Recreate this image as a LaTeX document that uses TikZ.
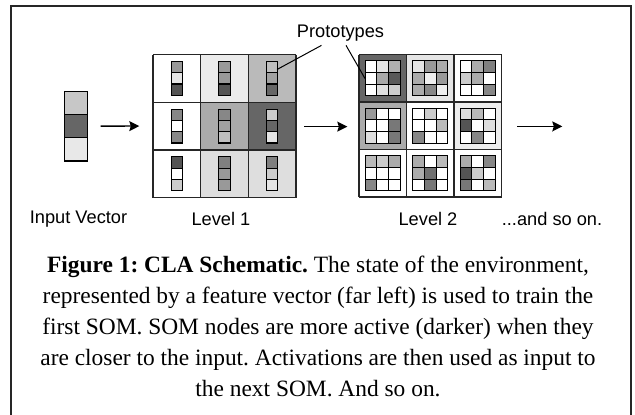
\documentclass[tikz,border=0pt]{standalone}
\usepackage{fontspec}
\setmainfont{Liberation Serif}
\newfontfamily\labelfont{Liberation Sans}
\usetikzlibrary{arrows.meta}
\frenchspacing
\begin{document}
\begin{tikzpicture}[x=1bp,y=-1bp,
  gridline/.style={draw=black!85, line width=1.3bp},
  sub/.style={draw=black, line width=1.1bp},
  flow/.style={line width=1.3bp, -{Stealth[length=10bp,width=10bp,inset=1.5bp]}},
  lbl/.style={font=\labelfont\fontsize{18.3}{21}\selectfont, inner sep=0},
  pointer/.style={line width=1bp},
  area/.style={inner sep=0, outer sep=0}]
\useasboundingbox (0,0) rectangle (635,414);
\draw[line width=2bp, draw=black!85] (11,6) rectangle (631,430);

% ---------- input vector ----------
\filldraw[sub, fill=black!22] (64.3,91.3) rectangle ++(23.4,23.23);
\filldraw[sub, fill=black!60] (64.3,114.53) rectangle ++(23.4,23.23);
\filldraw[sub, fill=black!9] (64.3,137.76) rectangle ++(23.4,23.23);
\node[area, minimum width=23.4bp, minimum height=69.7bp] (IV) at (76,126.15) {};

% ---------- level 1 ----------
\foreach \r/\c/\bg/\ba/\bb/\bc in {
  0/0/0/40/10/67, 0/1/8/40/40/67, 0/2/27/25/37/60,
  1/0/0/47/0/47, 1/1/33/47/37/25, 1/2/60/20/60/10,
  2/0/0/67/0/20, 2/1/13/50/40/40, 2/2/13/50/20/10}{
  \pgfmathsetmacro\xx{153+\c*47.7}
  \pgfmathsetmacro\yy{54.5+\r*47.7}
  \fill[black!\bg] (\xx,\yy) rectangle ++(47.7,47.7);
  \pgfmathsetmacro\bx{\xx+23.85-5.65}
  \pgfmathsetmacro\by{\yy+23.85-17}
  \filldraw[sub, fill=black!\ba] (\bx,\by) rectangle ++(11.3,11.33);
  \filldraw[sub, fill=black!\bb] (\bx,\by+11.33) rectangle ++(11.3,11.33);
  \filldraw[sub, fill=black!\bc] (\bx,\by+22.66) rectangle ++(11.3,11.33);
}
\foreach \i in {0,...,3}{
  \draw[gridline] ({153+\i*47.7},54.5) -- ++(0,143.1);
  \draw[gridline] (153,{54.5+\i*47.7}) -- ++(143.1,0);
}
\node[area, minimum width=143.1bp, minimum height=143.1bp] (L1) at (224.55,126.05) {};

% ---------- level 2 ----------
\foreach \r/\c/\bg/\vals in {
  0/0/60/{0,10,31,0,34,65,0,12,20},
  0/1/10/{10,40,33,33,7,40,33,47,7},
  0/2/0/{0,33,50,20,33,0,0,0,47},
  1/0/33/{40,0,0,0,0,53,13,0,53},
  1/1/0/{0,20,0,0,0,27,47,0,0},
  1/2/7/{13,27,0,67,0,13,0,47,0},
  2/0/0/{27,20,33,0,0,0,47,0,0},
  2/1/0/{33,0,27,33,56,0,0,53,0},
  2/2/0/{33,0,47,67,20,0,53,0,27}}{
  \pgfmathsetmacro\xx{359+\c*47.5}
  \pgfmathsetmacro\yy{54.5+\r*47.5}
  \fill[black!\bg] (\xx,\yy) rectangle ++(47.5,47.5);
  \foreach [count=\k from 0] \v in \vals {
    \pgfmathsetmacro\ii{mod(\k,3)}
    \pgfmathsetmacro\jj{div(\k,3)}
    \filldraw[sub, fill=black!\v] ({\xx+6.25+\ii*11.67},{\yy+6.25+\jj*11.67}) rectangle ++(11.67,11.67);
  }
}
\foreach \i in {0,...,3}{
  \draw[gridline] ({359+\i*47.5},54.5) -- ++(0,142.5);
  \draw[gridline] (359,{54.5+\i*47.5}) -- ++(142.5,0);
}
\node[area, minimum width=142.5bp, minimum height=142.5bp] (L2) at (430.25,125.75) {};

% ---------- arrows ----------
\coordinate (more) at (562.3,126.4);
\draw[flow, shorten <=13bp, shorten >=13.7bp] (IV.east) -- (L1.west);
\draw[flow, shorten <=8.3bp, shorten >=11.7bp] (L1.east |- 0,126.6) -- (L2.west |- 0,126.6);
\draw[flow, shorten <=15.6bp] (L2.east |- more) -- (more);

% ---------- prototypes ----------
\node[lbl] (proto) at (340.5,33) {Prototypes};
\coordinate (pa) at (277,69.5);
\coordinate (pb) at (365,78.5);
\draw[pointer] ([xshift=-19bp,yshift=-4bp]proto.south) -- (pa);
\draw[pointer] ([xshift=5.5bp,yshift=-4bp]proto.south) -- (pb);

% ---------- labels ----------
\node[lbl] (tIV) at (78.5,219) {Input Vector};
\node[lbl] (tL1) at (221,219) {Level 1};
\node[lbl] (tL2) at (428,219) {Level 2};
\node[lbl] (tmore) at (552,219) {...and so on.};

% ---------- caption ----------
\node[font=\fontsize{23.5}{31}\selectfont, align=center, anchor=north, inner sep=0] (cap) at (318,256)
 {\textbf{Figure 1: CLA Schematic.} The state of the environment,\\
  represented by a feature vector (far left) is used to train the\\
  first SOM. SOM nodes are more active (darker) when they\\
  are closer to the input. Activations are then used as input to\\
  the next SOM. And so on.};
\end{tikzpicture}
\end{document}
